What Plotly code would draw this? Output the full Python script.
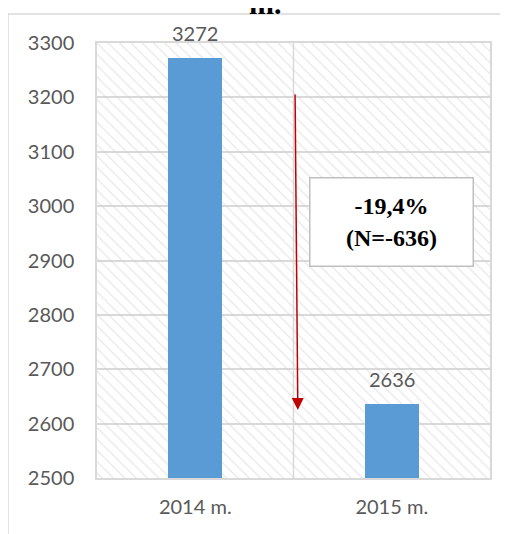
import plotly.graph_objects as go

categories = ["2014 m.", "2015 m."]
values = [3272, 2636]
change_pct = "-19,4%"
change_n = "(N=-636)"
y_ticks = [2500, 2600, 2700, 2800, 2900, 3000, 3100, 3200, 3300]
arrow_from = 3208
arrow_to = 2625
box_center_value = 2970

y_min, y_max = y_ticks[0], y_ticks[-1]
x_pos = list(range(len(categories)))
x_min, x_max = -0.5, len(categories) - 0.5

GRID = "#d9d9d9"
TXT = "#595959"
FONT = "Lato"

fig = go.Figure()

# hatched background of plot area (drawn first, under the bars)
fig.add_trace(go.Bar(
    x=[(x_min + x_max) / 2], y=[y_max - y_min], base=y_min,
    width=[x_max - x_min],
    marker=dict(color="rgba(0,0,0,0)", line=dict(width=0),
                pattern=dict(shape="\\", fgcolor="#cfcfcf", bgcolor="rgba(0,0,0,0)",
                             size=8, solidity=0.15, fillmode="overlay")),
    hoverinfo="skip", showlegend=False,
))

fig.add_trace(go.Bar(
    x=x_pos, y=[v - y_min for v in values], base=y_min,
    width=0.275, marker=dict(color="#5B9BD5", line=dict(width=0)),
    showlegend=False,
))

for xp, v in zip(x_pos, values):
    fig.add_annotation(x=xp, y=v, text=str(v), showarrow=False,
                       yanchor="bottom", yshift=11,
                       font=dict(family=FONT, size=20, color=TXT))

# arrow
fig.add_annotation(x=0.522, y=arrow_to, ax=0.508, ay=arrow_from,
                   xref="x", yref="y", axref="x", ayref="y",
                   text="", showarrow=True, arrowhead=2, arrowsize=1.6,
                   arrowwidth=1.5, arrowcolor="#C00000")

# change box
fig.add_annotation(x=1.0, y=box_center_value, xref="x", yref="y",
                   text=f"<b>{change_pct}</b><br><b>{change_n}</b>",
                   showarrow=False, width=158, height=83, borderpad=2,
                   bordercolor="#bfbfbf", borderwidth=1.5, bgcolor="white",
                   font=dict(family="Liberation Serif", size=24, color="black"),
                   align="center", valign="middle")

# separator between categories
fig.add_shape(type="line", xref="x", yref="y", x0=0.5, x1=0.5,
              y0=y_min, y1=y_max, line=dict(color=GRID, width=1.5), layer="below")

# outer chart border (only left and top edges are inside the picture)
fig.add_shape(type="line", xref="paper", yref="paper",
              x0=-0.2265, x1=-0.2265, y0=-0.5, y1=1.0667,
              line=dict(color=GRID, width=1.5))
fig.add_shape(type="line", xref="paper", yref="paper",
              x0=-0.2265, x1=1.5, y0=1.0667, y1=1.0667,
              line=dict(color=GRID, width=1.5))

# cropped title
fig.add_annotation(xref="paper", yref="paper", x=0.428, y=1.049,
                   yanchor="bottom", text="<b>m.</b>", showarrow=False,
                   font=dict(family="Liberation Serif", size=30, color="black"))

fig.update_layout(
    width=500, height=526,
    margin=dict(l=89, r=18, t=35, b=56),
    plot_bgcolor="white", paper_bgcolor="white",
    barmode="overlay", bargap=0,
    xaxis=dict(range=[x_min, x_max], tickvals=x_pos, ticktext=categories,
               showgrid=False, zeroline=False, showline=True, linecolor=GRID,
               linewidth=1.5, mirror=True, ticks="", ticklabelstandoff=10,
               tickfont=dict(family=FONT, size=20, color=TXT), fixedrange=True),
    yaxis=dict(range=[y_min, y_max], tickvals=y_ticks, showgrid=True,
               gridcolor=GRID, gridwidth=1.5, zeroline=False, showline=True,
               linecolor=GRID, linewidth=1.5, mirror=True,
               ticks="outside", ticklen=17, tickcolor="rgba(0,0,0,0)",
               tickfont=dict(family=FONT, size=20, color=TXT), fixedrange=True),
)

fig.write_html("out.html")
